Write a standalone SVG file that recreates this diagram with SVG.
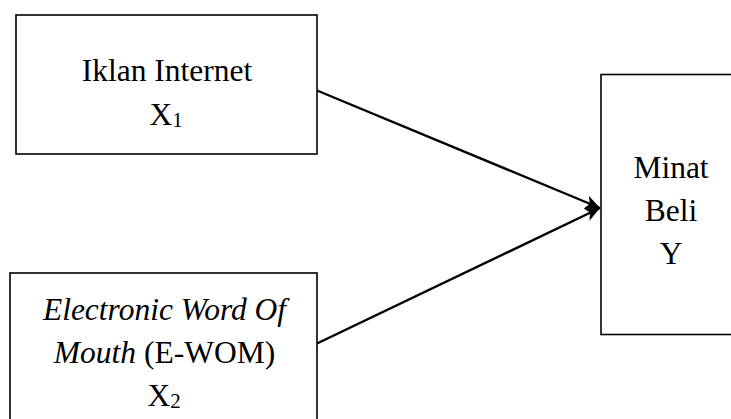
<svg xmlns="http://www.w3.org/2000/svg" width="731" height="419" viewBox="0 0 731 419">
<style>
.box{fill:#fff;stroke:#000;stroke-width:1.6}
.t{font-family:"Liberation Serif","Times New Roman",serif;font-size:31.5px;fill:#000;text-anchor:middle}
.i{font-style:italic}
.sub{font-size:21px}
.conn{stroke:#000;stroke-width:2.4;fill:none;marker-end:url(#ah)}
</style>
<defs>
<marker id="ah" markerUnits="userSpaceOnUse" markerWidth="18" markerHeight="16" refX="15" refY="7" orient="auto">
<path d="M0,0 L15,7 L0,14 L4,7 Z" fill="#000"/>
</marker>
</defs>
<rect width="731" height="419" fill="#fff"/>
<g id="connectors">
<line class="conn" x1="317" y1="90.5" x2="600" y2="208"/>
<line class="conn" x1="317" y1="343.5" x2="600" y2="208"/>
</g>
<g id="node-x1">
<rect class="box" x="16" y="15" width="301" height="139"/>
<text class="t" x="167" y="80.5">Iklan Internet</text>
<text class="t" x="166" y="124.5">X<tspan class="sub" dy="2">1</tspan></text>
</g>
<g id="node-x2">
<rect class="box" x="10" y="273" width="307" height="160"/>
<text class="t i" x="164.5" y="319.5">Electronic Word Of</text>
<text class="t" x="164.5" y="363"><tspan class="i">Mouth</tspan> (E-WOM)</text>
<text class="t" x="164" y="406">X<tspan class="sub" dy="2">2</tspan></text>
</g>
<g id="node-y">
<rect class="box" x="601" y="74.5" width="160" height="260"/>
<text class="t" x="671" y="178">Minat</text>
<text class="t" x="671" y="221">Beli</text>
<text class="t" x="671" y="264">Y</text>
</g>
</svg>
